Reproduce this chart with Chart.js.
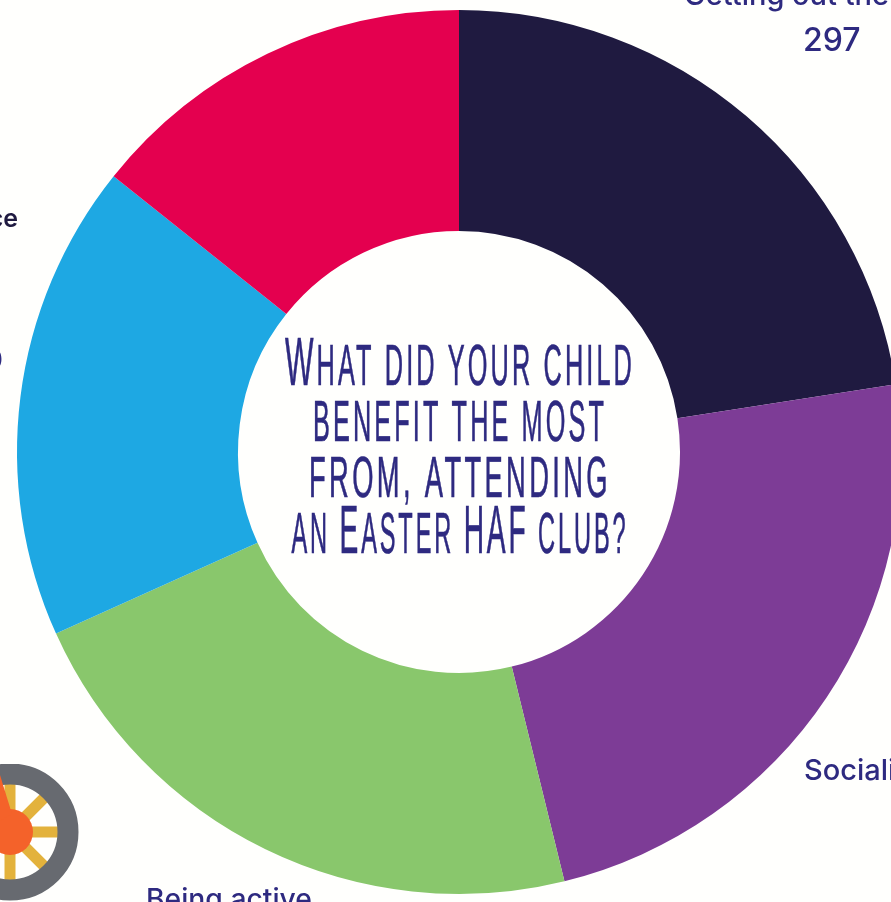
<!DOCTYPE html>
<html>
<head>
<meta charset="utf-8">
<script src="https://cdn.jsdelivr.net/npm/chart.js@4"></script>
<style>
    html, body { margin: 0; padding: 0; width: 891px; height: 902px; overflow: hidden; background: #fffffd; }
    #grafica { position: absolute; left: 0; top: 0; }
    .rotulo { position: absolute; font: 500 29px Inter, sans-serif; color: #2e2a80; white-space: nowrap; line-height: 1; }
    #rueda { position: absolute; left: -50px; top: 764px; }
</style>
</head>
<body>
<canvas id="grafica" width="918" height="904"></canvas>
<div class="rotulo" style="left:684px;top:-20px">Getting out the house</div>
<div class="rotulo" style="left:803px;top:24px;font-size:32px">297</div>
<div class="rotulo" style="left:804px;top:755px">Socialising</div>
<div class="rotulo" style="left:146px;top:885px;font-size:28.3px">Being active</div>
<div class="rotulo" style="right:873px;top:206px;font-size:25px;font-weight:600;color:#1f1a40">Confidence</div>
<div class="rotulo" style="right:888px;top:346px;font-size:27px">230</div>
<svg id="rueda" width="130" height="138" viewBox="0 0 130 138">
    <g stroke="#e3b23c" stroke-width="11">
        <line x1="60" y1="68" x2="60" y2="15"/>
        <line x1="60" y1="68" x2="98" y2="30"/>
        <line x1="60" y1="68" x2="112" y2="68"/>
        <line x1="60" y1="68" x2="98" y2="106"/>
        <line x1="60" y1="68" x2="60" y2="122"/>
    </g>
    <circle cx="60" cy="68" r="58" fill="none" stroke="#676a70" stroke-width="21"/>
    <circle cx="60" cy="68" r="23" fill="#f4622a"/>
    <path d="M30 68 L50 11 L62 50 Z" fill="#f4622a"/>
</svg>
<script>
const categorias = ['Getting out the house', 'Socialising', 'Being active', 'Confidence', 'Other'];
const valores = [297, 311, 291, 230, 188];
const colores = ['#1f1a40', '#7d3c96', '#89c76c', '#1ea8e3', '#e4004f'];
const lineasTitulo = ['What did your child', 'benefit the most', 'from, attending', 'an Easter HAF club?'];

// title in the hole: capitals bigger than the rest, each line squeezed to its width in the picture
const tituloCentro = {
    id: 'tituloCentro',
    afterDraw(chart) {
        const ctx = chart.ctx;
        const anchos = [350, 294, 302, 337];
        const bases = [385, 441, 497, 553];
        const fuente = '"Liberation Sans Narrow", "Liberation Sans", sans-serif';
        ctx.save();
        ctx.fillStyle = '#2e2a80';
        ctx.strokeStyle = '#2e2a80';
        ctx.lineWidth = 0.7;
        ctx.textAlign = 'left';
        ctx.letterSpacing = '7px';
        lineasTitulo.forEach(function(linea, i) {
            const trozos = linea.match(/[A-Z]+|[^A-Z]+/g).map(function(t) {
                return { texto: t.toUpperCase(), size: /[A-Z]/.test(t) ? 68 : 57 };
            });
            let ancho = 0;
            trozos.forEach(function(t) {
                ctx.font = t.size + 'px ' + fuente;
                t.ancho = ctx.measureText(t.texto).width;
                ancho += t.ancho;
            });
            ctx.save();
            ctx.translate(460 - anchos[i] / 2, bases[i]);
            ctx.scale(anchos[i] / ancho, 1);
            let x = 0;
            trozos.forEach(function(t) {
                ctx.font = t.size + 'px ' + fuente;
                ctx.fillText(t.texto, x, 0);
                ctx.strokeText(t.texto, x, 0);
                x += t.ancho;
            });
            ctx.restore();
        });
        ctx.restore();
    }
};

document.addEventListener('DOMContentLoaded', function(){
    const $grafica = document.getElementById('grafica').getContext('2d');

    new Chart($grafica, {
        type: 'doughnut',
        data: {
            labels: categorias,
            datasets: [{
                data: valores,
                backgroundColor: colores,
                borderWidth: 0
            }]
        },
        options: {
            responsive: false,
            animation: false,
            cutout: '50%',
            layout: { padding: 10 },
            plugins: {
                legend: { display: false },
                tooltip: { enabled: false }
            }
        },
        plugins: [tituloCentro]
    });
});
</script>
</body>
</html>
